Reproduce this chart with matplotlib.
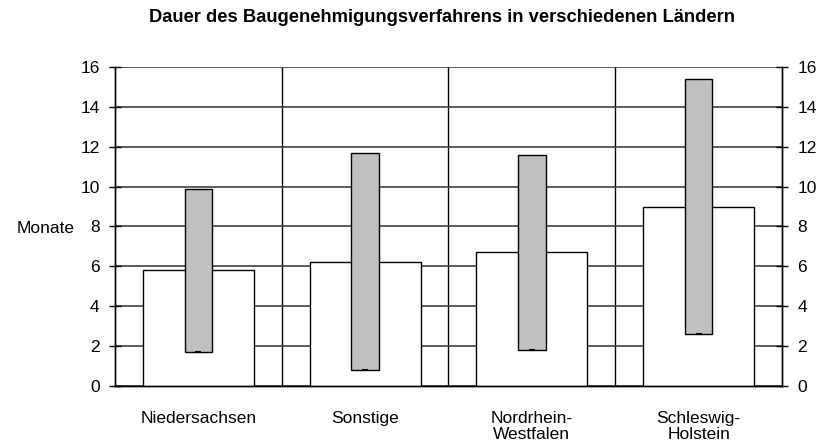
import matplotlib.pyplot as plt
import numpy as np

plt.rcParams['font.family'] = ['Liberation Sans', 'DejaVu Sans']

# Data: average duration (white) and range min..max (gray), months
laender = ["Niedersachsen", "Sonstige", "Nordrhein-\nWestfalen", "Schleswig-\nHolstein"]
mittel = [5.8, 6.2, 6.7, 9.0]
minimum = [1.7, 0.8, 1.8, 2.6]
maximum = [9.9, 11.7, 11.6, 15.4]

x = np.arange(len(laender))
fig = plt.figure(figsize=(8.19, 4.47), dpi=100)
ax = fig.add_axes([0.1404, 0.1365, 0.8144, 0.7136])

# white mean bars and gray min-max bars
ax.bar(x, mittel, 0.666, color='white', edgecolor='black', linewidth=1, zorder=3)
ax.bar(x, np.array(maximum) - np.array(minimum), 0.165, bottom=minimum,
       color='#c0c0c0', edgecolor='black', linewidth=1, zorder=4)
ax.plot(x, minimum, linestyle='none', marker='_', markersize=5, color='black',
        markeredgewidth=1.5, zorder=5)

ax.set_xlim(-0.5, len(laender) - 0.5)
ax.set_ylim(0, 16)
ax.set_yticks(np.arange(0, 17, 2))
ax.yaxis.grid(True, color='#404040', linewidth=1.2, zorder=0)
for b in np.arange(0.5, len(laender) - 0.5):
    ax.axvline(b, color='black', linewidth=1, zorder=1)

fs = 12.5
ax.set_xticks(x)
ax.set_xticklabels(laender, fontsize=fs, va='top', linespacing=1.1)
ax.tick_params(axis='x', length=0, pad=18)
ax.tick_params(axis='y', direction='inout', length=8, width=1, labelsize=fs, pad=7)

ax2 = ax.twinx()
ax2.set_ylim(0, 16)
ax2.set_yticks(np.arange(0, 17, 2))
ax2.tick_params(axis='y', direction='inout', length=8, width=1, labelsize=fs, pad=7)

for a in (ax, ax2):
    for s in a.spines.values():
        s.set_linewidth(1)
    a.spines['top'].set_visible(False)

fig.text(75 / 819, 1 - 228 / 447, "Monate", ha='right', va='center', fontsize=fs)

fig.suptitle("Dauer des Baugenehmigungsverfahrens in verschiedenen Ländern",
             fontsize=13.2, fontweight='bold', y=1 - 18 / 447, va='center', x=0.540)

fig.savefig("out.png", dpi=100)
